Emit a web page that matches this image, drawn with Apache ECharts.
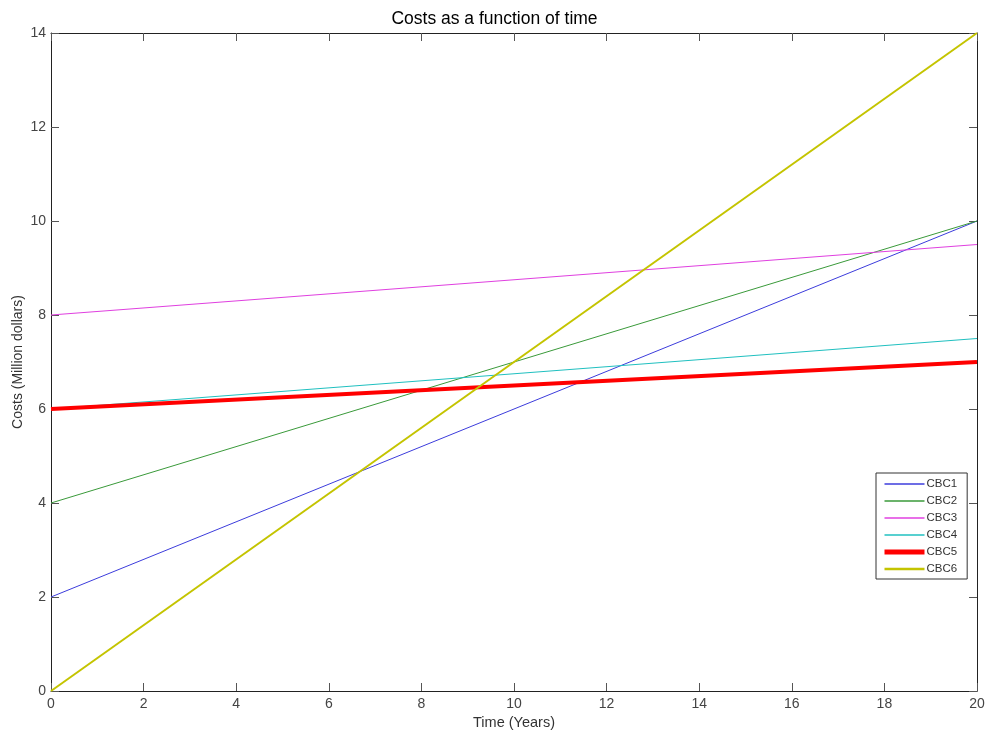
<!DOCTYPE html>
<html>
<head>
<meta charset="utf-8">
<script src="https://cdn.jsdelivr.net/npm/echarts@6/dist/echarts.min.js"></script>
<style>html,body{margin:0;padding:0;background:#fff;}#c{width:989px;height:733px;}</style>
</head>
<body>
<div id="c"></div>
<script>
const times = [0, 20];
const seriesNames = ['CBC1', 'CBC2', 'CBC3', 'CBC4', 'CBC5', 'CBC6'];
const cbc1 = [2, 10];
const cbc2 = [4, 10];
const cbc3 = [8, 9.5];
const cbc4 = [6, 7.5];
const cbc5 = [6, 7];
const cbc6 = [0, 14];
const xTicks = [0, 2, 4, 6, 8, 10, 12, 14, 16, 18, 20];
const yTicks = [0, 2, 4, 6, 8, 10, 12, 14];

const values = [cbc1, cbc2, cbc3, cbc4, cbc5, cbc6];
const colors = ['#3c3cdc', '#3a9a3a', '#e040e0', '#20c0c0', '#ff0000', '#c4c400'];
const widths = [1, 1, 1, 1, 4, 2];

const font = 'Arial, "Liberation Sans", sans-serif';
const axisCommon = {
  type: 'value',
  splitLine: { show: false },
  axisLine: { show: true, onZero: false, lineStyle: { color: '#222', width: 1 } },
  axisTick: { show: true, inside: true, length: 8, lineStyle: { color: '#555' } }
};

const chart = echarts.init(document.getElementById('c'), null, { renderer: 'canvas' });
chart.setOption({
  animation: false,
  backgroundColor: '#fff',
  title: {
    text: 'Costs as a function of time',
    left: 'center', top: 5,
    textStyle: { fontFamily: font, fontSize: 17.5, fontWeight: 'normal', color: '#000' }
  },
  grid: { left: 51, right: 12, top: 33, bottom: 42, show: false, containLabel: false, outerBoundsMode: 'none' },
  legend: {
    data: seriesNames.map((n, i) => ({
      name: n,
      itemStyle: { opacity: 0 },
      lineStyle: { color: colors[i], width: widths[i] === 4 ? 5 : widths[i] + 0.5 }
    })),
    orient: 'vertical',
    left: 876, top: 473,
    padding: [5, 10, 4, 6],
    itemGap: 5,
    itemWidth: 40,
    itemHeight: 12,
    borderColor: '#333', borderWidth: 1,
    backgroundColor: '#fff',
    itemStyle: { opacity: 0 },
    textStyle: { fontFamily: font, fontSize: 11.5, color: '#333', padding: [0, 0, 0, -3] }
  },
  xAxis: [
    Object.assign({}, axisCommon, {
      min: xTicks[0], max: xTicks[xTicks.length - 1], interval: 2, position: 'bottom',
      name: 'Time (Years)', nameLocation: 'middle', nameGap: 24, nameMoveOverlap: false,
      nameTextStyle: { fontFamily: font, fontSize: 14.5, color: '#333' },
      axisLabel: { fontFamily: font, fontSize: 14, color: '#444', margin: 6 }
    }),
    Object.assign({}, axisCommon, {
      min: xTicks[0], max: xTicks[xTicks.length - 1], interval: 2, position: 'top',
      axisLabel: { show: false }
    })
  ],
  yAxis: [
    Object.assign({}, axisCommon, {
      min: yTicks[0], max: yTicks[yTicks.length - 1], interval: 2, position: 'left',
      name: 'Costs (Million dollars)', nameLocation: 'middle', nameGap: 26, nameMoveOverlap: false,
      nameTextStyle: { fontFamily: font, fontSize: 14, color: '#333' },
      axisLabel: { fontFamily: font, fontSize: 14, color: '#444', margin: 5 }
    }),
    Object.assign({}, axisCommon, {
      min: yTicks[0], max: yTicks[yTicks.length - 1], interval: 2, position: 'right',
      axisLabel: { show: false }
    })
  ],
  series: seriesNames.map((n, i) => ({
    name: n,
    type: 'line',
    xAxisIndex: 0, yAxisIndex: 0,
    symbol: 'none',
    showSymbol: false,
    data: times.map((t, j) => [t, values[i][j]]),
    lineStyle: { color: colors[i], width: widths[i] },
    itemStyle: { color: colors[i] },
    z: 2 + i
  }))
});
</script>
</body>
</html>
